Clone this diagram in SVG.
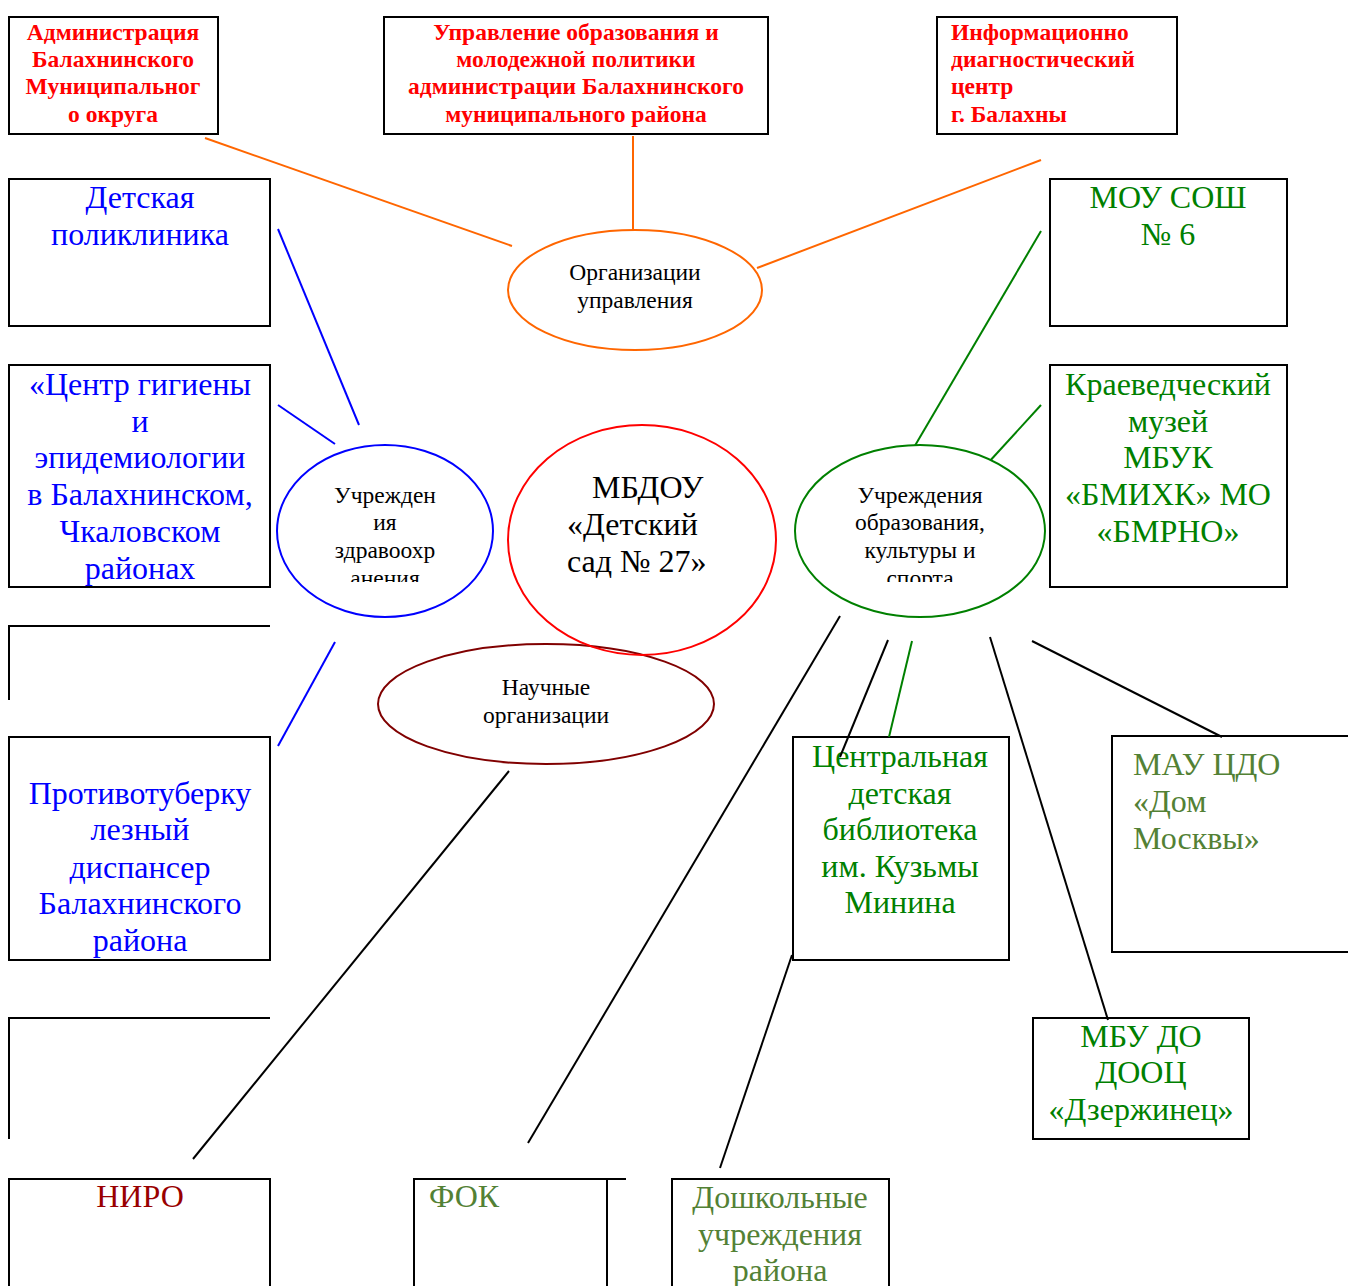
<svg xmlns="http://www.w3.org/2000/svg" width="1348" height="1286" viewBox="0 0 1348 1286">
<style>
text{font-family:"Liberation Serif","Times New Roman",serif}
.box{fill:#fff;stroke:#000;stroke-width:2}
.open{fill:none;stroke:#000;stroke-width:2}
.rb{font-size:23.5px;font-weight:bold;fill:#f00}
.bl{font-size:32px;fill:#00f}
.gr{font-size:32px;fill:#008000}
.ol{font-size:32px;fill:#538135}
.el{font-size:23.5px;fill:#000}
.c{text-anchor:middle}
.lo{stroke:#ff6600;stroke-width:2;fill:none}
.lb{stroke:#0000ff;stroke-width:2;fill:none}
.lg{stroke:#008000;stroke-width:2;fill:none}
.lk{stroke:#000;stroke-width:2;fill:none}
</style>
<defs>
<clipPath id="cpB"><rect x="280" y="450" width="210" height="132"/></clipPath>
<clipPath id="cpG"><rect x="800" y="450" width="240" height="132"/></clipPath>
</defs>
<rect width="1348" height="1286" fill="#fff"/>

<g id="n-admin">
<rect class="box" x="9" y="17" width="209" height="117"/>
<text class="rb c" x="113" y="40">Администрация</text>
<text class="rb c" x="113" y="67">Балахнинского</text>
<text class="rb c" x="113" y="94">Муниципальног</text>
<text class="rb c" x="113" y="122">о округа</text>
</g>
<g id="n-uo">
<rect class="box" x="384" y="17" width="384" height="117"/>
<text class="rb c" x="576" y="40">Управление образования и</text>
<text class="rb c" x="576" y="67">молодежной политики</text>
<text class="rb c" x="576" y="94">администрации Балахнинского</text>
<text class="rb c" x="576" y="122">муниципального района</text>
</g>
<g id="n-idc">
<rect class="box" x="937" y="17" width="240" height="117"/>
<text class="rb" x="951" y="40">Информационно</text>
<text class="rb" x="951" y="67">диагностический</text>
<text class="rb" x="951" y="94">центр</text>
<text class="rb" x="951" y="122">г. Балахны</text>
</g>

<g id="n-poly">
<rect class="box" x="9" y="179" width="261" height="147"/>
<text class="bl c" x="140" y="208">Детская</text>
<text class="bl c" x="140" y="245">поликлиника</text>
</g>
<g id="n-cge">
<rect class="box" x="9" y="365" width="261" height="222"/>
<text class="bl c" x="140" y="395">«Центр гигиены</text>
<text class="bl c" x="140" y="432">и</text>
<text class="bl c" x="140" y="468">эпидемиологии</text>
<text class="bl c" x="140" y="505">в Балахнинском,</text>
<text class="bl c" x="140" y="542">Чкаловском</text>
<text class="bl c" x="140" y="579">районах</text>
</g>
<g id="n-open1">
<polyline class="open" points="9,700 9,626 270,626"/>
</g>
<g id="n-ptd">
<rect class="box" x="9" y="737" width="261" height="223"/>
<text class="bl c" x="140" y="804">Противотуберку</text>
<text class="bl c" x="140" y="840">лезный</text>
<text class="bl c" x="140" y="878">диспансер</text>
<text class="bl c" x="140" y="914">Балахнинского</text>
<text class="bl c" x="140" y="951">района</text>
</g>
<g id="n-open2">
<polyline class="open" points="9,1139 9,1018 270,1018"/>
</g>

<g id="n-sosh">
<rect class="box" x="1050" y="179" width="237" height="147"/>
<text class="gr c" x="1168" y="208">МОУ СОШ</text>
<text class="gr c" x="1168" y="245">№ 6</text>
</g>
<g id="n-museum">
<rect class="box" x="1050" y="365" width="237" height="222"/>
<text class="gr c" x="1168" y="395">Краеведческий</text>
<text class="gr c" x="1168" y="432">музей</text>
<text class="gr c" x="1168" y="468">МБУК</text>
<text class="gr c" x="1168" y="505">«БМИХК» МО</text>
<text class="gr c" x="1168" y="542">«БМРНО»</text>
</g>
<g id="n-lib">
<rect class="box" x="793" y="737" width="216" height="223"/>
<text class="gr c" x="900" y="767">Центральная</text>
<text class="gr c" x="900" y="804">детская</text>
<text class="gr c" x="900" y="840">библиотека</text>
<text class="gr c" x="900" y="877">им. Кузьмы</text>
<text class="gr c" x="900" y="913">Минина</text>
</g>
<g id="n-mau">
<polyline class="open" points="1348,736 1112,736 1112,952 1348,952"/>
<text class="ol" x="1133" y="775">МАУ ЦДО</text>
<text class="ol" x="1133" y="812">«Дом</text>
<text class="ol" x="1133" y="849">Москвы»</text>
</g>
<g id="n-dooc">
<rect class="box" x="1033" y="1018" width="216" height="121"/>
<text class="gr c" x="1141" y="1047">МБУ ДО</text>
<text class="gr c" x="1141" y="1083">ДООЦ</text>
<text class="gr c" x="1141" y="1120">«Дзержинец»</text>
</g>
<g id="n-niro">
<polyline class="open" points="9,1290 9,1179 270,1179 270,1290"/>
<text class="c" x="140" y="1207" font-size="32" fill="#990000">НИРО</text>
</g>
<g id="n-fok">
<polyline class="open" points="414,1290 414,1179 626,1179"/>
<line class="open" x1="607" y1="1179" x2="607" y2="1290"/>
<text class="ol" x="429" y="1207">ФОК</text>
</g>
<g id="n-dou">
<polyline class="open" points="672,1290 672,1179 889,1179 889,1290"/>
<text class="ol c" x="780" y="1208">Дошкольные</text>
<text class="ol c" x="780" y="1245">учреждения</text>
<text class="ol c" x="780" y="1281">района</text>
</g>

<g id="connectors">
<line class="lo" x1="205" y1="138" x2="512" y2="246"/>
<line class="lo" x1="633" y1="136" x2="633" y2="231"/>
<line class="lo" x1="1041" y1="160" x2="757" y2="268"/>
<line class="lb" x1="278" y1="229" x2="359" y2="425"/>
<line class="lb" x1="278" y1="405" x2="335" y2="444"/>
<line class="lb" x1="335" y1="642" x2="278" y2="746"/>
<line class="lg" x1="1041" y1="231" x2="913" y2="449"/>
<line class="lg" x1="1041" y1="405" x2="988" y2="463"/>
<line class="lg" x1="912" y1="641" x2="889" y2="737"/>
<line class="lk" x1="840" y1="616" x2="528" y2="1143"/>
<line class="lk" x1="888" y1="640" x2="840" y2="757"/>
<line class="lk" x1="990" y1="637" x2="1108" y2="1020"/>
<line class="lk" x1="1032" y1="641" x2="1222" y2="737"/>
<line class="lk" x1="792" y1="955" x2="720" y2="1168"/>
<line class="lk" x1="509" y1="771" x2="193" y2="1159"/>
</g>

<g id="n-org">
<ellipse cx="635" cy="290" rx="127" ry="60" fill="#fff" stroke="#ff6600" stroke-width="2"/>
<text class="el c" x="635" y="280">Организации</text>
<text class="el c" x="635" y="308">управления</text>
</g>

<g id="n-health">
<ellipse cx="385" cy="531" rx="108" ry="86" fill="#fff" stroke="#0000ff" stroke-width="2"/>
<g clip-path="url(#cpB)">
<text class="el c" x="385" y="503">Учрежден</text>
<text class="el c" x="385" y="530">ия</text>
<text class="el c" x="385" y="558">здравоохр</text>
<text class="el c" x="385" y="586">анения</text>
</g>
</g>

<g id="n-sci">
<ellipse cx="546" cy="704" rx="168" ry="60" fill="#fff" stroke="#800000" stroke-width="2"/>
<text class="el c" x="546" y="695">Научные</text>
<text class="el c" x="546" y="723">организации</text>
</g>

<g id="n-main">
<ellipse cx="642" cy="540" rx="134" ry="115" fill="none" stroke="#ff0000" stroke-width="2"/>
<text x="592" y="498" font-size="32" fill="#000">МБДОУ</text>
<text x="567" y="535" font-size="32" fill="#000">«Детский</text>
<text x="567" y="572" font-size="32" fill="#000">сад № 27»</text>
</g>

<g id="n-edu">
<ellipse cx="920" cy="531" rx="125" ry="86" fill="#fff" stroke="#008000" stroke-width="2"/>
<g clip-path="url(#cpG)">
<text class="el c" x="920" y="503">Учреждения</text>
<text class="el c" x="920" y="530">образования,</text>
<text class="el c" x="920" y="558">культуры и</text>
<text class="el c" x="920" y="586">спорта</text>
</g>
</g>
</svg>
